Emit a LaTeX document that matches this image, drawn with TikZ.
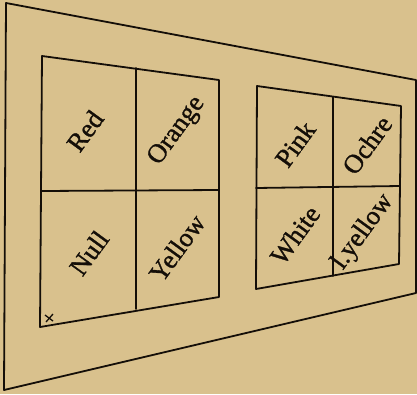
\documentclass[tikz,border=0pt]{standalone}
\usepackage{fontspec}
\newfontfamily\labfont{Liberation Serif}[FakeBold=1.2]
\usetikzlibrary{calc}
\definecolor{paper}{RGB}{217,193,141}
\definecolor{ink}{RGB}{20,14,8}
\tikzset{
  edge/.style={draw=ink,line width=1.8pt,line join=round,line cap=round},
  lab/.style={text=ink,font=\labfont\fontsize{26.5}{30}\selectfont,rotate=54,inner sep=0pt}
}
\begin{document}
\begin{tikzpicture}[x=1pt,y=-1pt]
\fill[paper] (0,0) rectangle (417,394);
\useasboundingbox (0,0) rectangle (417,394);
% outer board
\coordinate (o1) at (6,3);
\coordinate (o2) at (416,80);
\coordinate (o3) at (416,293);
\coordinate (o4) at (4,390);
\draw[edge] (o1) -- (o2) -- (o3) -- (o4) -- cycle;
% left panel
\coordinate (a1) at (42,56);
\coordinate (a2) at (219,80);
\coordinate (a3) at (219,297);
\coordinate (a4) at (40,327);
\coordinate (am1) at (136,68);
\coordinate (am2) at (136,309);
\coordinate (ah1) at (41,191);
\coordinate (ah2) at (219,190);
\draw[edge] (a1) -- (a2) -- (a3) -- (a4) -- cycle;
\draw[edge] (am1) -- (am2);
\draw[edge] (ah1) -- (ah2);
% right panel
\coordinate (b1) at (257,86);
\coordinate (b2) at (401,106);
\coordinate (b3) at (399,264);
\coordinate (b4) at (256,289);
\coordinate (bm1) at (333,97);
\coordinate (bm2) at (333,276);
\coordinate (bh1) at (256,188);
\coordinate (bh2) at (400,186);
\draw[edge] (b1) -- (b2) -- (b3) -- (b4) -- cycle;
\draw[edge] (bm1) -- (bm2);
\draw[edge] (bh1) -- (bh2);
% cross mark
\coordinate (c0) at (49,318);
\draw[draw=ink,line width=1.3pt] ($(c0)+(-4,-3)$) -- ($(c0)+(4,3)$);
\draw[draw=ink,line width=1.3pt] ($(c0)+(-3,4)$) -- ($(c0)+(4,-4)$);
% labels
\node[lab] (red) at (85,131) {Red};
\node[lab] (orange) at (177,131) {Orange};
\node[lab] (null) at (89,253) {Null};
\node[lab] (yellow) at (177,248) {Yellow};
\node[lab] (pink) at (295,144) {Pink};
\node[lab] (ochre) at (367,145) {Ochre};
\node[lab] (white) at (295,235) {White};
\node[lab] (lyellow) at (363,232) {l.yellow};
\end{tikzpicture}
\end{document}
